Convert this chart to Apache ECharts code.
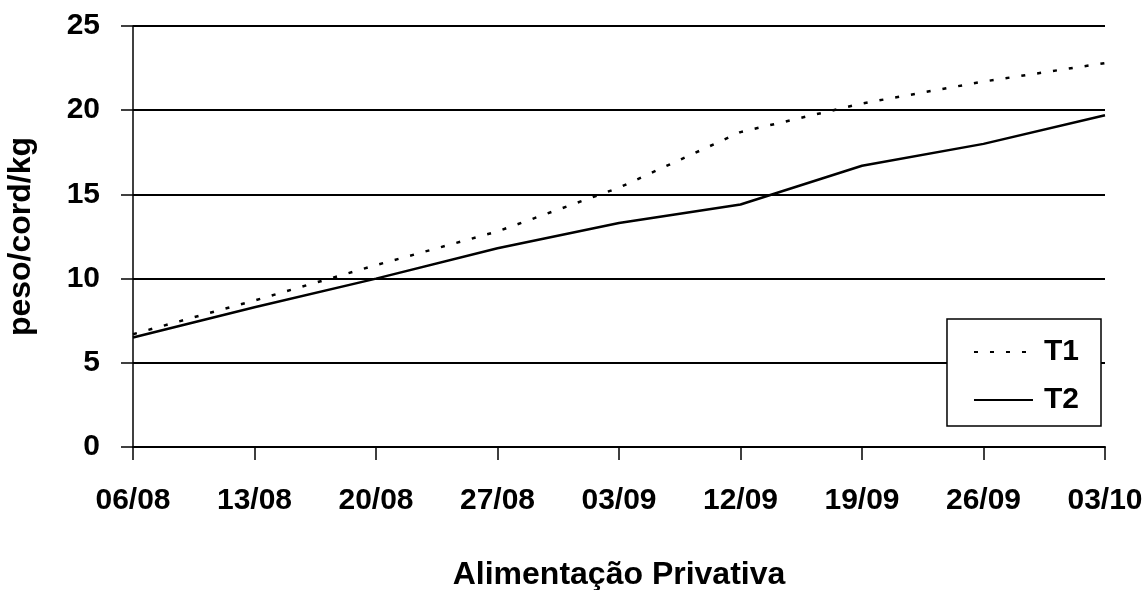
<!DOCTYPE html>
<html>
<head>
<meta charset="utf-8">
<script src="https://cdn.jsdelivr.net/npm/echarts@6/dist/echarts.min.js"></script>
<style>
html, body { margin: 0; padding: 0; background: #fff; }
#chart { width: 1148px; height: 590px; }
</style>
</head>
<body>
<div id="chart"></div>
<script>
// dados
var datas = ['06/08', '13/08', '20/08', '27/08', '03/09', '12/09', '19/09', '26/09', '03/10'];
var t1 = [6.7, 8.7, 10.8, 12.8, 15.4, 18.7, 20.4, 21.7, 22.8];
var t2 = [6.5, 8.3, 10.0, 11.8, 13.3, 14.4, 16.7, 18.0, 19.7];
var yTicks = [0, 5, 10, 15, 20, 25];

var fonte = '"Liberation Sans", Arial, sans-serif';

var chart = echarts.init(document.getElementById('chart'));

var option = {
    backgroundColor: '#fff',
    animation: false,
    grid: {
        left: 133,
        right: 43,
        top: 26,
        bottom: 143,
        containLabel: false,
        outerBoundsMode: 'none'
    },
    legend: {
        data: ['T1', 'T2'],
        orient: 'vertical',
        right: 47,
        top: 319,
        padding: [18, 22, 11, 26],
        itemWidth: 59,
        itemHeight: 20,
        itemGap: 18,
        backgroundColor: '#fff',
        borderColor: '#000',
        borderWidth: 1.5,
        itemStyle: { opacity: 0 },
        textStyle: {
            fontFamily: fonte,
            fontWeight: 'bold',
            fontSize: 30,
            lineHeight: 20,
            color: '#000',
            padding: [0, 0, 0, 6]
        }
    },
    xAxis: {
        type: 'category',
        boundaryGap: false,
        data: datas,
        name: 'Alimentação Privativa',
        nameLocation: 'middle',
        nameGap: 112,
        nameTextStyle: {
            fontFamily: fonte,
            fontWeight: 'bold',
            fontSize: 32,
            color: '#000'
        },
        axisLine: { lineStyle: { color: '#000', width: 2 } },
        axisTick: { show: true, length: 13, lineStyle: { color: '#000', width: 1.5 } },
        axisLabel: {
            margin: 39,
            fontFamily: fonte,
            fontWeight: 'bold',
            fontSize: 30,
            color: '#000',
            interval: 0
        },
        splitLine: { show: false }
    },
    yAxis: {
        type: 'value',
        min: 0,
        max: 25,
        interval: 5,
        name: 'peso/cord/kg',
        nameLocation: 'middle',
        nameGap: 96,
        nameTextStyle: {
            fontFamily: fonte,
            fontWeight: 'bold',
            fontSize: 32,
            color: '#000'
        },
        axisLine: { show: true, lineStyle: { color: '#000', width: 1.5 } },
        axisTick: { show: true, length: 12, lineStyle: { color: '#000', width: 1.5 } },
        axisLabel: {
            margin: 33,
            fontFamily: fonte,
            fontWeight: 'bold',
            fontSize: 30,
            color: '#000',
            formatter: function (v) {
                return yTicks.indexOf(v) >= 0 ? String(v) : '';
            }
        },
        splitLine: { show: true, lineStyle: { color: '#000', width: 2 } }
    },
    series: [
        {
            name: 'T1',
            type: 'line',
            data: t1,
            symbol: 'none',
            showSymbol: false,
            itemStyle: { color: '#000' },
            lineStyle: { color: '#000', width: 2.5, type: [4, 12] },
            z: 3
        },
        {
            name: 'T2',
            type: 'line',
            data: t2,
            symbol: 'none',
            showSymbol: false,
            itemStyle: { color: '#000' },
            lineStyle: { color: '#000', width: 2.5, type: 'solid' },
            z: 3
        }
    ]
};

chart.setOption(option);
</script>
</body>
</html>
